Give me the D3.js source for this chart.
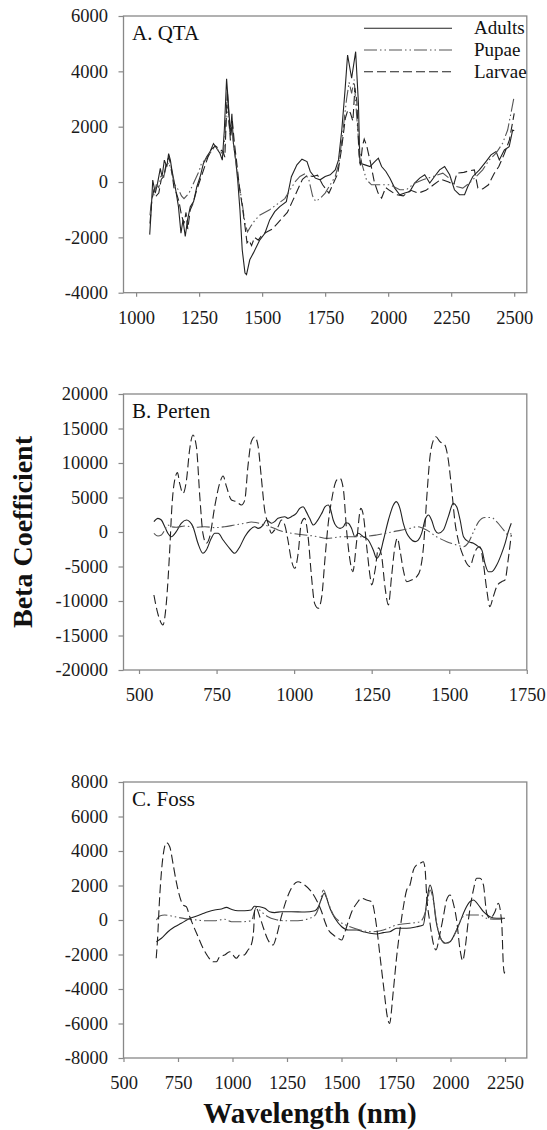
<!DOCTYPE html>
<html>
<head>
<meta charset="utf-8">
<script src="https://cdn.jsdelivr.net/npm/d3@7"></script>
<style>
  body { margin: 0; background: #fff; }
  svg { display: block; }
</style>
</head>
<body>
<script>
// wavelength (nm), beta coefficient

// A. QTA
const qtaAdults = [[1054,-1900],[1060,-1000],[1066,70],[1076,-400],[1085,-50],[1096,490],[1103,190],[1112,790],[1122,550],[1129,1030],[1136,790],[1142,430],[1155,-170],[1168,-890],[1178,-1850],[1186,-1370],[1195,-1970],[1204,-1370],[1215,-890],[1228,-710],[1241,-170],[1254,190],[1267,670],[1280,910],[1293,1090],[1307,1390],[1320,1210],[1333,1030],[1342,790],[1350,1870],[1359,3730],[1367,2710],[1374,1750],[1380,2470],[1386,1390],[1395,790],[1403,70],[1412,-1010],[1421,-2450],[1432,-3290],[1438,-3350],[1451,-2810],[1465,-2570],[1478,-2330],[1491,-2090],[1511,-1850],[1530,-1370],[1550,-1070],[1570,-890],[1596,-710],[1616,190],[1638,620],[1658,825],[1678,740],[1691,380],[1711,140],[1730,80],[1750,200],[1770,260],[1790,440],[1803,800],[1816,1880],[1829,3330],[1839,4590],[1855,3750],[1871,4710],[1882,2845],[1888,680],[1908,620],[1928,560],[1947,740],[1961,860],[1974,560],[1991,380],[2007,140],[2026,-220],[2046,-460],[2066,-400],[2086,-340],[2105,-40],[2125,140],[2145,260],[2165,-40],[2184,200],[2204,440],[2224,560],[2244,260],[2263,-280],[2283,-460],[2303,-460],[2316,-160],[2336,200],[2362,440],[2388,740],[2408,980],[2428,1100],[2441,800],[2461,1160],[2480,1280],[2494,1880],[2500,1850]];
const qtaPupae = [[1055,-1200],[1062,-600],[1070,-500],[1080,-100],[1090,-200],[1100,300],[1110,200],[1120,600],[1130,700],[1140,400],[1150,0],[1160,-200],[1170,-300],[1180,-500],[1190,-600],[1200,-500],[1210,-400],[1230,0],[1250,400],[1260,700],[1275,800],[1290,1000],[1305,1200],[1320,1200],[1335,1100],[1345,1000],[1352,1600],[1360,2900],[1366,2300],[1372,1800],[1378,2100],[1385,1500],[1395,800],[1405,100],[1420,-700],[1432,-1500],[1442,-1800],[1455,-1600],[1470,-1400],[1490,-1200],[1510,-1100],[1530,-1000],[1560,-800],[1590,-600],[1610,-300],[1630,0],[1650,200],[1670,300],[1685,100],[1700,-500],[1712,-700],[1730,-600],[1750,-400],[1770,-100],[1790,200],[1805,700],[1820,1800],[1835,3000],[1845,3600],[1855,3200],[1865,3700],[1875,2400],[1885,1200],[1895,680],[1914,80],[1934,-100],[1967,-100],[2007,-100],[2046,-280],[2072,-280],[2105,-40],[2138,80],[2178,200],[2217,320],[2250,80],[2270,-160],[2296,-220],[2322,-40],[2349,200],[2375,440],[2401,800],[2428,1040],[2454,1400],[2474,1880],[2487,2480],[2500,3100]];
const qtaLarvae = [[1055,-1500],[1062,-700],[1070,-300],[1080,-500],[1090,-400],[1100,100],[1110,200],[1120,700],[1130,900],[1140,500],[1150,-200],[1160,-400],[1170,-700],[1180,-1200],[1190,-1500],[1198,-1100],[1205,-1700],[1215,-1000],[1225,-800],[1240,-300],[1255,100],[1270,500],[1285,900],[1300,1200],[1315,1300],[1330,1200],[1345,1100],[1352,900],[1362,3300],[1368,2400],[1374,1500],[1382,2200],[1390,1400],[1398,800],[1410,-200],[1420,-800],[1432,-1600],[1440,-2200],[1448,-2100],[1458,-2300],[1470,-2000],[1485,-2100],[1500,-1900],[1520,-1800],[1540,-1700],[1560,-1500],[1580,-1300],[1600,-1100],[1620,-700],[1640,-300],[1660,100],[1680,250],[1700,200],[1720,250],[1740,-100],[1765,-400],[1780,-100],[1800,300],[1815,1200],[1830,2300],[1840,2600],[1850,2500],[1860,2200],[1868,3400],[1876,2900],[1884,1000],[1890,600],[1898,1300],[1905,1550],[1915,1300],[1930,700],[1945,0],[1960,-400],[1974,-580],[1990,-200],[2005,-300],[2030,-450],[2060,-500],[2090,-300],[2120,-400],[2150,-300],[2180,-100],[2210,100],[2240,0],[2260,-100],[2273,320],[2300,350],[2320,400],[2342,440],[2356,-220],[2375,-250],[2398,-100],[2420,300],[2439,560],[2460,1000],[2481,1520],[2500,2480]];

// B. Perten
const pertenAdults = [[548,1500],[561,1980],[572,1740],[583,770],[593,-190],[604,-680],[620,50],[636,1260],[653,1740],[663,1500],[674,770],[690,-1640],[706,-3090],[717,-2610],[733,-920],[744,-190],[755,-190],[771,-1160],[792,-2370],[808,-3090],[825,-2130],[841,-680],[857,290],[873,770],[884,530],[900,1010],[911,1740],[927,1260],[937,1500],[948,1980],[970,2220],[980,1980],[991,2220],[1007,2700],[1018,3430],[1029,3670],[1039,2950],[1050,1980],[1062,1010],[1073,1500],[1089,2700],[1100,3670],[1110,3910],[1118,3190],[1126,1740],[1137,770],[1148,530],[1159,770],[1167,1350],[1175,1260],[1185,530],[1196,-680],[1207,-190],[1223,-680],[1239,-1160],[1255,-2610],[1266,-3810],[1277,-3090],[1288,-1160],[1304,1740],[1320,3910],[1329,4400],[1341,3430],[1352,1260],[1363,-190],[1374,-920],[1390,-1400],[1400,-1160],[1411,-190],[1422,1740],[1433,2460],[1443,1740],[1454,290],[1465,-190],[1481,290],[1497,2220],[1513,4150],[1524,3670],[1535,1740],[1546,-680],[1562,-1400],[1578,-1640],[1594,-2130],[1605,-2610],[1615,-4540],[1626,-5750],[1637,-5750],[1653,-4780],[1669,-3090],[1680,-1640],[1690,0],[1700,1260]];
const pertenPupae = [[548,-190],[561,-580],[572,-430],[583,290],[593,1010],[604,770],[620,680],[647,870],[680,680],[712,770],[744,630],[776,770],[808,1010],[841,1260],[862,1450],[884,1300],[905,1000],[927,700],[948,290],[991,-190],[1034,-430],[1077,-680],[1105,-920],[1159,-680],[1212,-680],[1266,-430],[1320,50],[1374,530],[1395,770],[1427,290],[1459,-680],[1492,-1400],[1524,-1880],[1546,-2130],[1562,-1500],[1578,0],[1595,1500],[1615,2100],[1635,2100],[1655,1400],[1675,300],[1690,-400],[1700,-200]];
const pertenLarvae = [[548,-9130],[559,-11540],[567,-12750],[577,-13480],[588,-10340],[599,-2610],[606,3670],[615,7530],[624,8600],[631,7050],[642,5600],[653,7530],[663,11880],[674,14060],[685,12360],[696,5120],[706,-190],[717,-1640],[728,-680],[744,3670],[760,7050],[771,8110],[782,6570],[798,4640],[814,4400],[830,3910],[841,4640],[851,9470],[862,13090],[873,13810],[884,12360],[894,8020],[905,3190],[916,1260],[927,-190],[937,290],[948,770],[959,1740],[970,1000],[980,-1160],[991,-4060],[1002,-5260],[1013,-3090],[1023,1260],[1034,1980],[1045,-680],[1056,-6470],[1066,-10340],[1078,-11060],[1089,-9370],[1100,-3570],[1110,1260],[1121,4640],[1137,7530],[1148,7780],[1159,6090],[1169,290],[1180,-4060],[1189,-5750],[1202,-1160],[1215,3430],[1223,2460],[1234,-2130],[1245,-6470],[1250,-7680],[1261,-5510],[1272,-2300],[1282,-3500],[1293,-8000],[1304,-10580],[1314,-6470],[1325,-2130],[1333,-920],[1341,-2610],[1352,-5510],[1363,-7200],[1379,-6950],[1395,-6470],[1406,-5510],[1417,-2130],[1427,4640],[1438,10920],[1449,13330],[1457,13810],[1470,13090],[1486,12600],[1497,10430],[1508,6090],[1519,1260],[1529,-1160],[1546,-3570],[1567,-5020],[1578,-3570],[1589,-2370],[1599,-2130],[1610,-4540],[1621,-8400],[1631,-10820],[1642,-9370],[1653,-7920],[1669,-7200],[1680,-6950],[1690,-4000],[1700,-400]];

// C. Foss
const fossAdults = [[651,-1260],[674,-1060],[704,-680],[735,-390],[765,-190],[796,40],[826,190],[857,330],[888,480],[918,580],[949,640],[972,730],[995,620],[1025,540],[1056,540],[1086,580],[1100,800],[1125,770],[1148,680],[1170,480],[1193,430],[1224,480],[1270,480],[1331,460],[1378,540],[1394,770],[1409,1260],[1420,1550],[1432,1260],[1447,680],[1470,100],[1501,-390],[1531,-580],[1570,-580],[1600,-680],[1631,-770],[1661,-810],[1692,-730],[1722,-680],[1753,-480],[1799,-480],[1845,-390],[1875,-290],[1894,1350],[1906,2030],[1918,1550],[1933,0],[1952,-970],[1975,-1350],[1998,-1260],[2021,-770],[2044,-100],[2066,580],[2089,1060],[2105,1160],[2128,870],[2151,480],[2181,190],[2212,100],[2250,100]];
const fossPupae = [[651,0],[666,230],[689,290],[720,230],[750,150],[781,80],[811,40],[872,-40],[918,-40],[964,40],[995,-100],[1041,-100],[1086,-40],[1109,730],[1132,480],[1163,190],[1193,40],[1239,-40],[1300,-40],[1354,100],[1380,300],[1400,900],[1417,1740],[1440,970],[1463,290],[1493,-100],[1539,-390],[1585,-580],[1646,-680],[1692,-580],[1753,-290],[1814,-190],[1860,-100],[1891,770],[1906,1740],[1921,1160],[1937,-190],[1959,-1160],[1982,-1350],[2005,-1160],[2028,-580],[2051,100],[2074,290],[2105,290],[2135,290],[2166,100],[2212,40],[2250,100]];
const fossLarvae = [[650,-2220],[655,-1350],[666,1350],[681,3670],[697,4480],[712,4250],[727,3280],[742,2220],[758,1350],[773,870],[788,770],[804,190],[819,-290],[842,-970],[865,-1640],[888,-2130],[911,-2420],[926,-2420],[941,-2130],[964,-2030],[987,-1840],[1002,-2030],[1018,-2220],[1033,-2030],[1053,-2030],[1071,-1740],[1086,-1450],[1097,-580],[1102,580],[1109,680],[1125,190],[1140,-390],[1163,-1160],[1186,-1450],[1201,-970],[1224,190],[1247,1160],[1270,1840],[1300,2220],[1331,2030],[1362,1640],[1385,1160],[1409,480],[1424,-100],[1440,-580],[1463,-870],[1485,-1060],[1501,-1160],[1516,-680],[1531,-100],[1547,480],[1570,970],[1592,1260],[1615,1160],[1638,1060],[1661,-390],[1677,-2130],[1695,-4060],[1710,-5600],[1720,-6000],[1738,-4060],[1753,-2130],[1768,-580],[1784,770],[1799,1740],[1814,2030],[1830,2900],[1845,3190],[1860,3280],[1875,3380],[1883,3000],[1891,1350],[1906,-190],[1921,-1350],[1933,-1740],[1952,-770],[1967,190],[1982,1160],[1998,1450],[2013,970],[2028,0],[2044,-1740],[2056,-2360],[2066,-1740],[2082,0],[2105,1740],[2120,2420],[2135,2420],[2151,2030],[2166,390],[2181,100],[2204,480],[2219,970],[2235,-190],[2242,-2510],[2247,-3090],[2250,-2800]];

const seriesNames = ['Adults', 'Pupae', 'Larvae'];

const qtaXTicks = [1000, 1250, 1500, 1750, 2000, 2250, 2500];
const qtaYTicks = [-4000, -2000, 0, 2000, 4000, 6000];
const pertenXTicks = [500, 750, 1000, 1250, 1500, 1750];
const pertenYTicks = [-20000, -15000, -10000, -5000, 0, 5000, 10000, 15000, 20000];
const fossXTicks = [500, 750, 1000, 1250, 1500, 1750, 2000, 2250];
const fossYTicks = [-8000, -6000, -4000, -2000, 0, 2000, 4000, 6000, 8000];

const width = 547;
const height = 1130;
const left = 123.5;
const right = 526.8;
const font = '"Liberation Serif", "Times New Roman", serif';

// line look per series
const styles = {
    Adults: { dash: null, color: '#222' },
    Pupae: { dash: '13,3,1.5,3,1.5,3', color: '#555' },
    Larvae: { dash: '9,4', color: '#222' }
};

const panels = [
    { title: 'A. QTA', top: 16, bottom: 292.7, xDomain: [950, 2550], yDomain: [-4000, 6000],
      xTicks: qtaXTicks, yTicks: qtaYTicks, data: [qtaAdults, qtaPupae, qtaLarvae], curve: d3.curveLinear, legend: true },
    { title: 'B. Perten', top: 394, bottom: 670, xDomain: [450, 1750], yDomain: [-20000, 20000],
      xTicks: pertenXTicks, yTicks: pertenYTicks, data: [pertenAdults, pertenPupae, pertenLarvae], curve: d3.curveMonotoneX },
    { title: 'C. Foss', top: 782, bottom: 1058, xDomain: [500, 2350], yDomain: [-8000, 8000],
      xTicks: fossXTicks, yTicks: fossYTicks, data: [fossAdults, fossPupae, fossLarvae], curve: d3.curveMonotoneX }
];

const svg = d3.select('body').append('svg')
    .attr('width', width)
    .attr('height', height)
    .attr('viewBox', `0 0 ${width} ${height}`);

panels.forEach(p => {
    const x = d3.scaleLinear().domain(p.xDomain).range([left, right]);
    const y = d3.scaleLinear().domain(p.yDomain).range([p.bottom, p.top]);
    const g = svg.append('g');

    // x axis
    const xAxis = g.append('g')
        .attr('transform', `translate(0,${p.bottom})`)
        .call(d3.axisBottom(x).tickValues(p.xTicks).tickSize(4).tickPadding(14).tickFormat(d => String(d)));
    // y axis
    const yAxis = g.append('g')
        .attr('transform', `translate(${left},0)`)
        .call(d3.axisLeft(y).tickValues(p.yTicks).tickSize(5).tickPadding(10.5).tickFormat(d => String(d)));

    [xAxis, yAxis].forEach(a => {
        a.select('.domain').remove();
        a.selectAll('line').attr('stroke', '#888').attr('stroke-width', 1.2);
        a.selectAll('text')
            .attr('font-family', font)
            .attr('font-size', 18.5)
            .attr('fill', '#1a1a1a');
    });

    // frame
    g.append('rect')
        .attr('x', left).attr('y', p.top)
        .attr('width', right - left).attr('height', p.bottom - p.top)
        .attr('fill', 'none').attr('stroke', '#888').attr('stroke-width', 1.3);

    // lines
    const line = d3.line()
        .x(d => x(d[0]))
        .y(d => y(d[1]))
        .curve(p.curve);

    p.data.forEach((s, i) => {
        const st = styles[seriesNames[i]];
        g.append('path')
            .datum(s)
            .attr('d', line)
            .attr('fill', 'none')
            .attr('stroke', st.color)
            .attr('stroke-width', 1.1)
            .attr('stroke-dasharray', st.dash);
    });

    // panel title
    g.append('text')
        .attr('x', 132).attr('y', p.top + 24)
        .attr('font-family', font).attr('font-size', 21)
        .attr('fill', '#111')
        .text(p.title);

    if (p.legend) {
        const lg = g.append('g');
        seriesNames.forEach((name, i) => {
            const st = styles[name];
            const ly = p.top + 12.3 + i * 21.7;
            lg.append('line')
                .attr('x1', 364).attr('x2', 452)
                .attr('y1', ly).attr('y2', ly)
                .attr('stroke', st.color).attr('stroke-width', 1.1)
                .attr('stroke-dasharray', st.dash);
            lg.append('text')
                .attr('x', 474).attr('y', ly + 6)
                .attr('font-family', font).attr('font-size', 19)
                .attr('fill', '#111')
                .text(name);
        });
    }
});

// shared axis titles
svg.append('text')
    .attr('transform', 'translate(32,532) rotate(-90)')
    .attr('text-anchor', 'middle')
    .attr('font-family', font).attr('font-size', 28).attr('font-weight', 'bold')
    .attr('fill', '#111')
    .text('Beta Coefficient');

svg.append('text')
    .attr('x', 310).attr('y', 1123)
    .attr('text-anchor', 'middle')
    .attr('font-family', font).attr('font-size', 29).attr('font-weight', 'bold')
    .attr('fill', '#111')
    .text('Wavelength (nm)');
</script>
</body>
</html>
